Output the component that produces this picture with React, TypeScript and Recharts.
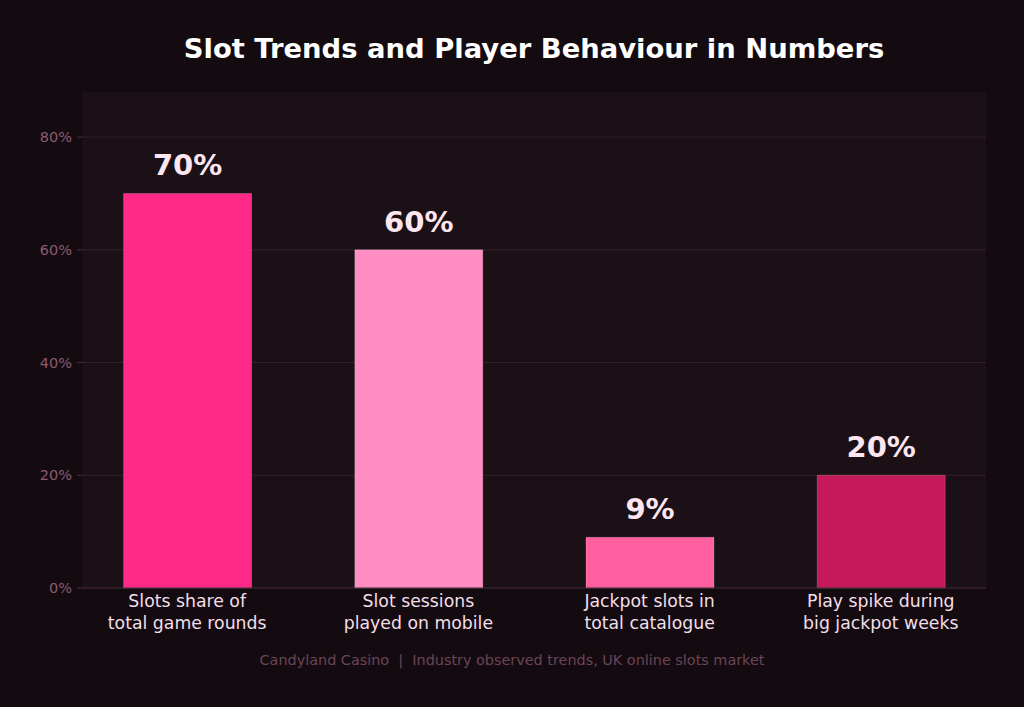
import React from "react";
import { BarChart, Bar, XAxis, YAxis, CartesianGrid, Cell, LabelList } from "recharts";

const categories = [
  ["Slots share of", "total game rounds"],
  ["Slot sessions", "played on mobile"],
  ["Jackpot slots in", "total catalogue"],
  ["Play spike during", "big jackpot weeks"],
];
const values = [70, 60, 9, 20];
const barColors = ["#ff2a87", "#ff8dc3", "#ff5e9f", "#c5195b"];
const yTicks = [0, 20, 40, 60, 80];

const FONT = "'DejaVu Sans', sans-serif";
const W = 1024;
const H = 707;

const data = values.map((v, i) => ({ idx: i, value: v }));

function CategoryTick({ x, y, payload }: any) {
  const lines = categories[payload.value] || [];
  return (
    <text x={x} y={y} textAnchor="middle" fill="#f3dfe9" fontSize={17.3} fontFamily={FONT}>
      {lines.map((line, i) => (
        <tspan key={i} x={x} dy={i === 0 ? 19 : 22}>
          {line}
        </tspan>
      ))}
    </text>
  );
}

export default function App() {
  return (
    <div style={{ position: "absolute", left: 0, top: 0, width: W, height: H, background: "#140b10", fontFamily: FONT }}>
      <div
        style={{
          position: "absolute",
          left: 82,
          width: 904,
          top: 33,
          textAlign: "center",
          color: "#ffffff",
          fontWeight: "bold",
          fontSize: 27.4,
          whiteSpace: "nowrap",
        }}
      >
        Slot Trends and Player Behaviour in Numbers
      </div>
      <BarChart
        width={W}
        height={H}
        data={data}
        margin={{ top: 92, right: 38, bottom: 69, left: 22 }}
        style={{ position: "absolute", left: 0, top: 0 }}
      >
        <CartesianGrid vertical={false} stroke="#35202b" fill="#1b1015" horizontalValues={yTicks} />
        <YAxis
          type="number"
          domain={[0, 88]}
          ticks={yTicks}
          width={60}
          axisLine={false}
          tickLine={{ stroke: "#4a2b3a" }}
          tickSize={5}
          tickMargin={5}
          tickFormatter={(v: number) => `${v}%`}
          tick={{ fill: "#8a5a71", fontSize: 14.5, fontFamily: FONT }}
        />
        <XAxis
          dataKey="idx"
          type="number"
          domain={[-0.455, 3.455]}
          ticks={[0, 1, 2, 3]}
          allowDataOverflow
          height={50}
          axisLine={{ stroke: "#3a2330" }}
          tickLine={false}
          tickSize={0}
          tickMargin={0}
          interval={0}
          tick={<CategoryTick />}
        />
        <Bar dataKey="value" barSize={128} isAnimationActive={false}>
          {data.map((d, i) => (
            <Cell key={i} fill={barColors[i]} stroke="rgba(255,255,255,0.18)" strokeWidth={1} />
          ))}
          <LabelList
            dataKey="value"
            position="top"
            offset={18}
            formatter={(v: any) => `${v}%`}
            fill="#fde6f0"
            fontSize={29}
            fontWeight="bold"
            fontFamily={FONT}
          />
        </Bar>
      </BarChart>
      <div
        style={{
          position: "absolute",
          left: 0,
          width: W,
          top: 652,
          textAlign: "center",
          color: "#6b4457",
          fontSize: 14.4,
          whiteSpace: "pre",
        }}
      >
        {"Candyland Casino  |  Industry observed trends, UK online slots market"}
      </div>
    </div>
  );
}
